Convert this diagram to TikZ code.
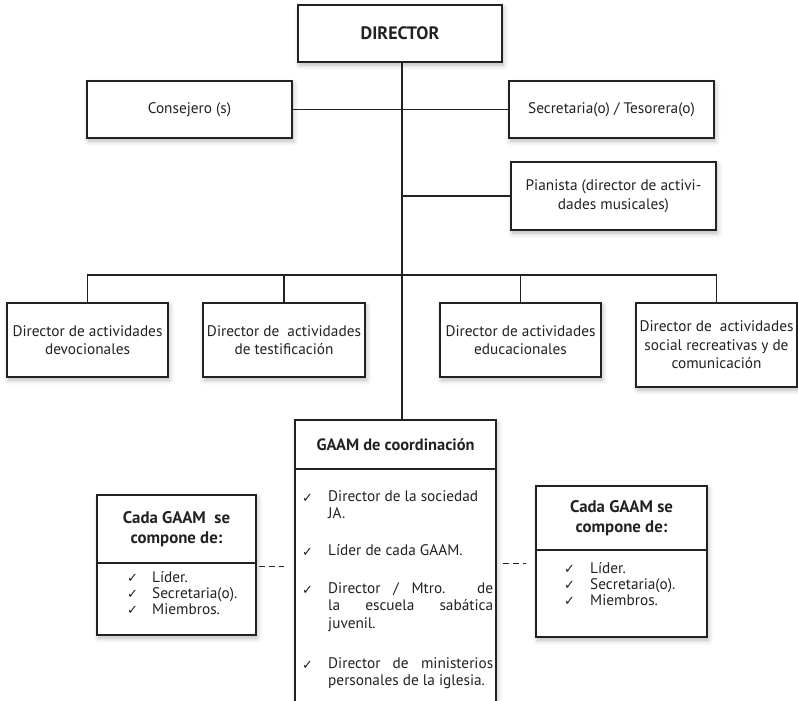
\documentclass[tikz,border=0pt]{standalone}
\usepackage{fontspec}
\setmainfont{PT Sans}
\newfontfamily\symfont{DejaVu Sans}
\usetikzlibrary{shadows.blur}
\definecolor{ink}{HTML}{222222}
\tikzset{
  shad/.style={blur shadow={shadow xshift=1.5pt, shadow yshift=-3pt, shadow blur radius=5pt, shadow opacity=28}},
  box/.style={draw=ink, line width=1.1pt, fill=white, align=center, inner sep=2pt, text=ink,
              font=\fontsize{15.3}{18.5}\selectfont, shad},
  plainbox/.style={draw=ink, line width=1.1pt, fill=white, align=center, inner sep=2pt, text=ink},
  conn/.style={draw=ink, line width=1.1pt},
  dline/.style={draw=ink, line width=0.9pt, dash pattern=on 6pt off 4pt},
  txt/.style={inner sep=0pt, text=ink, font=\fontsize{15.3}{17.5}\selectfont},
  hdr/.style={inner sep=0pt, text=ink, align=center, font=\bfseries\fontsize{16.8}{20}\selectfont},
  chk/.style={inner sep=0pt, text=ink, font=\symfont\fontsize{13}{14}\selectfont},
}
\begin{document}
\begin{tikzpicture}[x=1pt,y=-1pt]
\useasboundingbox (0,0) rectangle (798,701);
\clip (0,0) rectangle (798,701);
\coordinate (spine) at (402,0);
\coordinate (bar) at (0,275);
\coordinate (dl) at (0,566);
\coordinate (dr) at (0,563);

% top boxes
\node[box, line width=2.6pt, minimum width=204, minimum height=57, font=\bfseries\fontsize{18}{20}\selectfont] (dir) at (400,33.5) {DIRECTOR};
\node[box, minimum width=205, minimum height=57] (cons) at (189.5,109.5) {Consejero (s)};
\node[box, minimum width=205, minimum height=57] (sec) at (611.5,109.5) {Secretaria(o) / Tesorera(o)};
\node[box, minimum width=205, minimum height=68] (pia) at (613.5,196) {Pianista (director de activi-\\dades musicales)};

% row of four
\node[box, minimum width=161, minimum height=74] (b1) at (87.5,340) {Director de actividades\\devocionales};
\node[box, minimum width=162, minimum height=74] (b2) at (284,340) {Director de\ \ actividades\\de testificación};
\node[box, minimum width=161, minimum height=74] (b3) at (520.5,340) {Director de actividades\\educacionales};
\node[box, minimum width=161, minimum height=84] (b4) at (716.5,345) {Director de\ \ actividades\\social recreativas y de\\comunicación};

% center GAAM box
\node[box, minimum width=201, minimum height=310] (gb) at (395.5,575) {};
\node[plainbox, minimum width=201, minimum height=49, font=\bfseries\fontsize{16.4}{18}\selectfont] (gh) at (395.5,444.5) {GAAM de coordinación};

\node[chk, anchor=base west] (c1) at (302,502) {✓};
\node[txt, anchor=north west, text width=165, align=justify] (t1) at (328,490) {Director de la sociedad\newline JA.};
\node[chk, anchor=base west] (c2) at (302,556) {✓};
\node[txt, anchor=north west, text width=165, align=justify] (t2) at (328,544) {Líder de cada GAAM.};
\node[chk, anchor=base west] (c3) at (302,594) {✓};
\node[txt, anchor=north west, text width=165, align=justify] (t3) at (328,582) {Director / Mtro. de\linebreak la escuela sabática\linebreak juvenil.};
\node[chk, anchor=base west] (c4) at (302,669) {✓};
\node[txt, anchor=north west, text width=165, align=justify] (t4) at (328,657) {Director de ministerios\linebreak personales de la iglesia.};

% left GAAM box
\node[box, minimum width=159, minimum height=140] (lbox) at (176.5,565) {};
\draw[conn] (lbox.west |- 0,563) -- (lbox.east |- 0,563);
\node[hdr] (lh) at (176.5,529) {Cada GAAM\ \ se\\compone de:};
\node[chk, anchor=base west] (lc1) at (127,582) {✓};
\node[txt, anchor=base west] (ll1) at (152,582) {Líder.};
\node[chk, anchor=base west] (lc2) at (127,598) {✓};
\node[txt, anchor=base west] (ll2) at (152,598) {Secretaria(o).};
\node[chk, anchor=base west] (lc3) at (127,614) {✓};
\node[txt, anchor=base west] (ll3) at (152,614) {Miembros.};

% right GAAM box
\node[box, minimum width=171, minimum height=151] (rbox) at (621.5,561.5) {};
\draw[conn] (rbox.west |- 0,550) -- (rbox.east |- 0,550);
\node[hdr] (rh) at (621.5,518) {Cada GAAM se\\compone de:};
\node[chk, anchor=base west] (rc1) at (564,573) {✓};
\node[txt, anchor=base west] (rl1) at (590,573) {Líder.};
\node[chk, anchor=base west] (rc2) at (564,589) {✓};
\node[txt, anchor=base west] (rl2) at (590,589) {Secretaria(o).};
\node[chk, anchor=base west] (rc3) at (564,605) {✓};
\node[txt, anchor=base west] (rl3) at (590,605) {Miembros.};

% connectors
\draw[conn] (dir.south -| spine) -- (gh.north -| spine);
\draw[conn] (cons.east) -- (cons.east -| spine);
\draw[conn] (sec.west) -- (sec.west -| spine);
\draw[conn] (pia.west) -- (pia.west -| spine);
\draw[conn] (b1.north) -- (b1.north |- bar) -- (b4.north |- bar) -- (b4.north);
\draw[conn] (b2.north) -- (b2.north |- bar);
\draw[conn] (b3.north) -- (b3.north |- bar);
\draw[dline, shorten <=2pt, shorten >=10pt] (lbox.east |- dl) -- (gb.west |- dl);
\draw[dline, shorten <=6pt, shorten >=9pt] (gb.east |- dr) -- (rbox.west |- dr);
\end{tikzpicture}
\end{document}
